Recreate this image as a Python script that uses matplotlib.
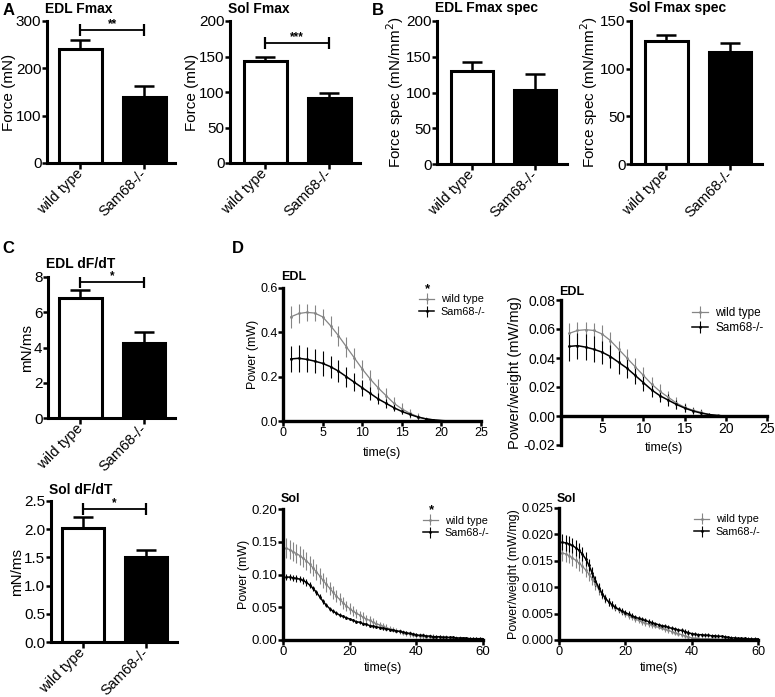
import matplotlib
matplotlib.use('Agg')
import matplotlib.pyplot as plt

plt.rcParams['font.family'] = ['Liberation Sans', 'DejaVu Sans']

groups = ["wild type", "Sam68-/-"]

# bar panels: mean and SEM (wild type, Sam68-/-)
edl_fmax = [240, 140]
edl_fmax_err = [20, 22]
sol_fmax = [144, 92]
sol_fmax_err = [6, 6]
edl_spec = [130, 104]
edl_spec_err = [13, 22]
sol_spec = [129, 118]
sol_spec_err = [6, 9]
edl_dfdt = [6.8, 4.25]
edl_dfdt_err = [0.45, 0.65]
sol_dfdt = [2.02, 1.5]
sol_dfdt_err = [0.2, 0.14]

# EDL power curves
edl_t = [1, 2, 3, 4, 5, 6, 7, 8, 9, 10, 11, 12, 13, 14, 15, 16, 17, 18, 19, 20, 21]
edl_pow_wt = [0.47, 0.485, 0.49, 0.487, 0.47, 0.43, 0.385, 0.335, 0.285, 0.235, 0.19,
              0.15, 0.115, 0.08, 0.055, 0.035, 0.02, 0.01, 0.005, 0.002, 0.0]
edl_pow_wt_err = [0.05, 0.045, 0.04, 0.035, 0.035, 0.045, 0.045, 0.045, 0.045, 0.04, 0.04,
                  0.04, 0.035, 0.03, 0.025, 0.02, 0.015, 0.01, 0.005, 0.003, 0.002]
edl_pow_ko = [0.28, 0.283, 0.278, 0.27, 0.26, 0.245, 0.225, 0.2, 0.175, 0.15, 0.125,
              0.1, 0.08, 0.06, 0.043, 0.03, 0.018, 0.01, 0.005, 0.002, 0.0]
edl_pow_ko_err = [0.06, 0.06, 0.055, 0.055, 0.055, 0.05, 0.05, 0.045, 0.04, 0.035, 0.03,
                  0.025, 0.02, 0.017, 0.013, 0.01, 0.008, 0.005, 0.003, 0.002, 0.001]
edl_pw_wt = [0.057, 0.059, 0.0595, 0.059, 0.0565, 0.052, 0.046, 0.04, 0.034, 0.028, 0.022,
             0.017, 0.013, 0.009, 0.006, 0.004, 0.0025, 0.001, 0.0005, 0.0, 0.0]
edl_pw_wt_err = [0.007, 0.006, 0.005, 0.005, 0.006, 0.006, 0.006, 0.006, 0.006, 0.006, 0.005,
                 0.005, 0.004, 0.004, 0.003, 0.002, 0.002, 0.001, 0.001, 0.0005, 0.0005]
edl_pw_ko = [0.048, 0.0485, 0.0475, 0.046, 0.044, 0.041, 0.037, 0.033, 0.028, 0.023, 0.018,
             0.014, 0.011, 0.008, 0.0055, 0.0035, 0.002, 0.001, 0.0003, 0.0, 0.0]
edl_pw_ko_err = [0.01, 0.009, 0.009, 0.009, 0.008, 0.008, 0.008, 0.007, 0.006, 0.006, 0.005,
                 0.004, 0.004, 0.003, 0.003, 0.002, 0.002, 0.001, 0.001, 0.0005, 0.0005]

# Sol power curves
sol_t = list(range(1, 61))
sol_pow_wt = [0.140, 0.138, 0.135, 0.132, 0.129, 0.125, 0.121, 0.116, 0.110, 0.104,
              0.098, 0.091, 0.085, 0.079, 0.073, 0.067, 0.062, 0.057, 0.052, 0.048,
              0.044, 0.041, 0.038, 0.035, 0.032, 0.030, 0.027, 0.025, 0.023, 0.021,
              0.019, 0.017, 0.016, 0.014, 0.013, 0.011, 0.010, 0.009, 0.008, 0.007,
              0.006, 0.006, 0.005, 0.005, 0.005, 0.004, 0.004, 0.004, 0.004, 0.003,
              0.003, 0.003, 0.003, 0.003, 0.002, 0.002, 0.002, 0.002, 0.002, 0.002]
sol_pow_wt_err = [0.015, 0.015, 0.015, 0.015, 0.014, 0.014, 0.014, 0.013, 0.013, 0.012,
                  0.012, 0.011, 0.011, 0.010, 0.010, 0.009, 0.009, 0.009, 0.008, 0.008,
                  0.008, 0.007, 0.007, 0.007, 0.006, 0.006, 0.006, 0.005, 0.005, 0.005,
                  0.005, 0.004, 0.004, 0.004, 0.004, 0.004, 0.004, 0.004, 0.004, 0.004,
                  0.004, 0.004, 0.004, 0.004, 0.004, 0.003, 0.003, 0.003, 0.003, 0.003,
                  0.003, 0.003, 0.003, 0.002, 0.002, 0.002, 0.002, 0.002, 0.002, 0.002]
sol_pow_ko = [0.096, 0.096, 0.095, 0.094, 0.093, 0.091, 0.088, 0.084, 0.079, 0.073,
              0.066, 0.059, 0.053, 0.048, 0.044, 0.041, 0.038, 0.036, 0.034, 0.032,
              0.030, 0.028, 0.027, 0.025, 0.024, 0.022, 0.021, 0.020, 0.019, 0.018,
              0.017, 0.016, 0.015, 0.014, 0.013, 0.012, 0.011, 0.010, 0.009, 0.008,
              0.007, 0.007, 0.006, 0.006, 0.005, 0.005, 0.005, 0.004, 0.004, 0.004,
              0.004, 0.003, 0.003, 0.003, 0.003, 0.002, 0.002, 0.002, 0.002, 0.002]
sol_pow_ko_err = [0.005, 0.005, 0.005, 0.005, 0.005, 0.005, 0.005, 0.005, 0.004, 0.004,
                  0.004, 0.004, 0.003, 0.003, 0.003, 0.003, 0.003, 0.002, 0.002, 0.002,
                  0.002, 0.002, 0.002, 0.002, 0.002, 0.002, 0.002, 0.002, 0.002, 0.002,
                  0.002, 0.002, 0.002, 0.002, 0.002, 0.002, 0.002, 0.002, 0.002, 0.002,
                  0.002, 0.002, 0.002, 0.002, 0.002, 0.002, 0.002, 0.002, 0.002, 0.002,
                  0.002, 0.002, 0.002, 0.002, 0.002, 0.002, 0.002, 0.002, 0.002, 0.002]
sol_pw_wt = [0.0165, 0.0163, 0.0160, 0.0156, 0.0151, 0.0146, 0.0140, 0.0133, 0.0125, 0.0116,
             0.0106, 0.0096, 0.0087, 0.0079, 0.0072, 0.0066, 0.0061, 0.0057, 0.0053, 0.0049,
             0.0046, 0.0043, 0.0040, 0.0037, 0.0034, 0.0032, 0.0030, 0.0028, 0.0026, 0.0024,
             0.0022, 0.0020, 0.0018, 0.0016, 0.0014, 0.0012, 0.0010, 0.0008, 0.0006, 0.0004,
             0.0003, 0.0003, 0.0002, 0.0002, 0.0002, 0.0002, 0.0001, 0.0001, 0.0001, 0.0001,
             0.0001, 0.0001, 0.0001, 0.0001, 0.0001, 0.0001, 0.0001, 0.0001, 0.0001, 0.0001]
sol_pw_wt_err = [0.0015, 0.0015, 0.0015, 0.0015, 0.0015, 0.0015, 0.0014, 0.0014, 0.0013, 0.0012,
                 0.0011, 0.0010, 0.0009, 0.0008, 0.0008, 0.0007, 0.0007, 0.0006, 0.0006, 0.0006,
                 0.0006, 0.0005, 0.0005, 0.0005, 0.0005, 0.0005, 0.0005, 0.0005, 0.0004, 0.0004,
                 0.0004, 0.0004, 0.0004, 0.0004, 0.0004, 0.0004, 0.0004, 0.0004, 0.0003, 0.0003,
                 0.0003, 0.0003, 0.0002, 0.0002, 0.0002, 0.0002, 0.0002, 0.0002, 0.0002, 0.0002,
                 0.0002, 0.0002, 0.0002, 0.0002, 0.0002, 0.0002, 0.0002, 0.0002, 0.0002, 0.0002]
sol_pw_ko = [0.0185, 0.0184, 0.0182, 0.0179, 0.0175, 0.0170, 0.0163, 0.0154, 0.0142, 0.0127,
             0.0112, 0.0099, 0.0088, 0.0079, 0.0072, 0.0067, 0.0062, 0.0058, 0.0055, 0.0052,
             0.0049, 0.0046, 0.0043, 0.0041, 0.0039, 0.0037, 0.0035, 0.0033, 0.0031, 0.0029,
             0.0027, 0.0026, 0.0024, 0.0022, 0.0021, 0.0019, 0.0018, 0.0016, 0.0014, 0.0012,
             0.0011, 0.0010, 0.0010, 0.0009, 0.0009, 0.0008, 0.0008, 0.0007, 0.0007, 0.0006,
             0.0005, 0.0004, 0.0004, 0.0003, 0.0003, 0.0003, 0.0002, 0.0002, 0.0002, 0.0002]
sol_pw_ko_err = [0.0015, 0.0015, 0.0015, 0.0015, 0.0015, 0.0014, 0.0014, 0.0013, 0.0012, 0.0011,
                 0.0010, 0.0009, 0.0008, 0.0007, 0.0007, 0.0006, 0.0006, 0.0005, 0.0005, 0.0005,
                 0.0005, 0.0005, 0.0005, 0.0004, 0.0004, 0.0004, 0.0004, 0.0004, 0.0004, 0.0004,
                 0.0004, 0.0004, 0.0004, 0.0004, 0.0004, 0.0004, 0.0004, 0.0004, 0.0004, 0.0004,
                 0.0004, 0.0004, 0.0004, 0.0004, 0.0004, 0.0004, 0.0004, 0.0004, 0.0003, 0.0003,
                 0.0003, 0.0003, 0.0003, 0.0003, 0.0003, 0.0003, 0.0003, 0.0003, 0.0003, 0.0003]

W, H = 775, 697
fig = plt.figure(figsize=(W / 100, H / 100), dpi=100)

GRAY = '#858585'


def px_axes(x0, x1, ytop, ybot):
    return fig.add_axes([x0 / W, (H - ybot) / H, (x1 - x0) / W, (ybot - ytop) / H])


def style(ax, lw=2.2, fs=11):
    for s in ['top', 'right']:
        ax.spines[s].set_visible(False)
    for s in ['left', 'bottom']:
        ax.spines[s].set_linewidth(lw)
    ax.tick_params(direction='out', length=3.5, width=1.8, labelsize=fs, pad=0.5)


def add_title(ax, title, fs, dy):
    # dy in pixels from the top of the axes to the baseline
    ax.annotate(title, (0, 1), xycoords='axes fraction', xytext=(-1.5, dy * 0.72),
                textcoords='offset points', fontsize=fs, fontweight='bold',
                ha='left', va='baseline')


def bar_panel(box, xlim, vals, errs, ylim, yticks, ylabel, title, dy, sig=None, yfmt=None):
    ax = px_axes(*box)
    style(ax)
    ax.bar([0, 1], vals, 0.67, color=['white', 'black'], edgecolor='black', linewidth=2.2, zorder=2)
    ax.errorbar([0, 1], vals, yerr=[[0, 0], errs], fmt='none', ecolor='black',
                elinewidth=1.8, capsize=7, capthick=1.8, zorder=1)
    ax.set_xlim(*xlim)
    ax.set_ylim(*ylim)
    ax.set_yticks(yticks)
    if yfmt:
        ax.set_yticklabels([yfmt.format(v) for v in yticks])
    ax.set_xticks([0, 1])
    ax.set_xticklabels(groups, rotation=45, ha='right', va='center', rotation_mode='anchor',
                       fontsize=10.5)
    ax.tick_params(axis='x', length=4.5, pad=1.5)
    ax.set_ylabel(ylabel, fontsize=11, labelpad=0)
    add_title(ax, title, 10, dy)
    if sig:
        y, stars = sig
        ax.plot([0, 1], [y, y], color='black', lw=1.3, marker='|', markersize=8, mew=1.6)
        ax.text(0.5, y, stars, ha='center', va='bottom', fontsize=8.5, fontweight='bold')
    return ax


bar_panel((47, 175, 21, 163), (-0.52, 1.48), edl_fmax, edl_fmax_err, (0, 300),
          [0, 100, 200, 300], "Force (mN)", "EDL Fmax", 8, sig=(280, "**"))
bar_panel((230, 360, 21, 163), (-0.55, 1.48), sol_fmax, sol_fmax_err, (0, 200),
          [0, 50, 100, 150, 200], "Force (mN)", "Sol Fmax", 8, sig=(169, "***"))
bar_panel((437, 567, 21, 164), (-0.56, 1.51), edl_spec, edl_spec_err, (0, 200),
          [0, 50, 100, 150, 200], "Force spec (mN/mm$^2$)", "EDL Fmax spec", 9)
bar_panel((631, 762, 21, 164), (-0.55, 1.5), sol_spec, sol_spec_err, (0, 150),
          [0, 50, 100, 150], "Force spec (mN/mm$^2$)", "Sol Fmax spec", 9)
bar_panel((48, 175, 277, 418), (-0.51, 1.49), edl_dfdt, edl_dfdt_err, (0, 8),
          [0, 2, 4, 6, 8], "mN/ms", "EDL dF/dT", 9, sig=(7.72, "*"))
bar_panel((51, 177, 501, 642), (-0.51, 1.5), sol_dfdt, sol_dfdt_err, (0, 2.5),
          [0, 0.5, 1.0, 1.5, 2.0, 2.5], "mN/ms", "Sol dF/dT", 7, sig=(2.36, "*"), yfmt="{:.1f}")


def line_panel(box, t, wt, wt_err, ko, ko_err, xlim, xticks, ylim, yticks, yfmt, ylabel,
               title, dy, fs, lab_fs, xpad, leg_x, leg_fs, star=False, zero_axis=False):
    ax = px_axes(*box)
    style(ax, lw=2.4, fs=fs)
    ax.errorbar(t, wt, yerr=wt_err, color=GRAY, lw=0.9, elinewidth=0.8, capsize=0,
                marker='.', markersize=2, label=groups[0])
    ax.errorbar(t, ko, yerr=ko_err, color='black', lw=1.1, elinewidth=0.8, capsize=0,
                marker='.', markersize=2, label=groups[1])
    ax.set_xlim(*xlim)
    ax.set_ylim(*ylim)
    ax.set_xticks(xticks)
    ax.set_yticks(yticks)
    ax.set_yticklabels([yfmt.format(v) for v in yticks])
    if zero_axis:
        ax.spines['bottom'].set_position(('data', 0))
    ax.set_xlabel("time(s)", fontsize=9, labelpad=xpad)
    ax.set_ylabel(ylabel, fontsize=lab_fs, labelpad=1)
    add_title(ax, title, 9, dy)
    ax.legend(loc='upper left', bbox_to_anchor=(leg_x, 1.0), frameon=False, fontsize=leg_fs,
              handlelength=1.4, handletextpad=0.6, labelspacing=0.25, borderaxespad=0.2)
    if star:
        ax.text(leg_x + 0.075, 0.99, "*", transform=ax.transAxes, fontsize=9.5,
                fontweight='bold', ha='center', va='center')
    return ax


line_panel((283, 481, 288, 421), edl_t, edl_pow_wt, edl_pow_wt_err, edl_pow_ko, edl_pow_ko_err,
           (0, 25), [0, 5, 10, 15, 20, 25], (0, 0.6), [0, 0.2, 0.4, 0.6], "{:.1f}",
           "Power (mW)", "EDL", 8, 9, 9, 6, 0.654, 7.8, star=True)
line_panel((561, 767, 300, 445), edl_t, edl_pw_wt, edl_pw_wt_err, edl_pw_ko, edl_pw_ko_err,
           (0, 25), [5, 10, 15, 20, 25], (-0.02, 0.08), [-0.02, 0, 0.02, 0.04, 0.06, 0.08],
           "{:.2f}", "Power/weight (mW/mg)", "EDL", 5, 10, 10.5, 5, 0.60, 8.5, zero_axis=True)
line_panel((283, 483, 509, 640), sol_t, sol_pow_wt, sol_pow_wt_err, sol_pow_ko, sol_pow_ko_err,
           (0, 60), [0, 20, 40, 60], (0, 0.2), [0, 0.05, 0.1, 0.15, 0.2], "{:.2f}",
           "Power (mW)", "Sol", 7, 9.5, 9, 3, 0.667, 7.8, star=True)
line_panel((559, 758, 508, 640), sol_t, sol_pw_wt, sol_pw_wt_err, sol_pw_ko, sol_pw_ko_err,
           (0, 60), [0, 20, 40, 60], (0, 0.025), [0, 0.005, 0.01, 0.015, 0.02, 0.025], "{:.3f}",
           "Power/weight (mW/mg)", "Sol", 6, 9.2, 9, 3, 0.646, 7.8)

# panel letters
for letter, x, y in [("A", 3, 15), ("B", 372, 15), ("C", 2, 253), ("D", 232, 253)]:
    fig.text(x / W, 1 - y / H, letter, fontsize=12, fontweight='bold', ha='left', va='baseline')

fig.savefig("out.png", dpi=100)
